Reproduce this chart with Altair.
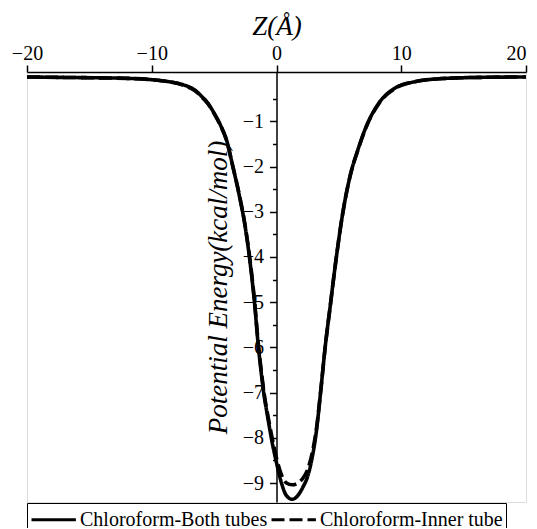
import altair as alt
import pandas as pd

series_names = ["Chloroform-Both tubes", "Chloroform-Inner tube"]

z_both = [-20, -17, -14, -12, -10, -8.5, -7.5, -6.5, -6, -5.5, -5, -4.5, -4, -3.5, -3, -2.5, -2,
          -1.75, -1.5, -1.25, -1, -0.7, -0.35, 0, 0.4, 0.8, 1.25, 1.7, 2.1, 2.5, 2.85, 3.2, 3.55,
          3.9, 4.3, 4.8, 5.3, 6.0, 6.5, 7.2, 8.2, 9.6, 11, 13, 16, 20]
e_both = [-0.02, -0.03, -0.04, -0.05, -0.08, -0.13, -0.19, -0.32, -0.45, -0.6, -0.82, -1.08, -1.42,
          -2.0, -2.62, -3.35, -4.4, -5.05, -5.85, -6.5, -7.05, -7.55, -8.1, -8.55, -9.0, -9.28,
          -9.36, -9.28, -9.1, -8.85, -8.45, -7.85, -6.95, -6.0, -5.1, -4.0, -3.05, -2.1, -1.65,
          -1.11, -0.6, -0.25, -0.13, -0.06, -0.03, -0.02]

z_inner = [-20, -17, -14, -12, -10, -8.5, -7.5, -6.5, -6, -5.5, -5, -4.5, -4, -3.5, -3, -2.5, -2,
           -1.75, -1.5, -1.25, -1, -0.7, -0.35, 0, 0.4, 0.8, 1.25, 1.7, 2.1, 2.5, 2.85, 3.2, 3.55,
           3.9, 4.3, 4.8, 5.3, 6.0, 6.5, 7.2, 8.2, 9.6, 11, 13, 16, 20]
e_inner = [-0.02, -0.03, -0.04, -0.05, -0.08, -0.13, -0.2, -0.33, -0.46, -0.61, -0.83, -1.09, -1.43,
           -2.0, -2.6, -3.33, -4.35, -5.0, -5.8, -6.45, -7.0, -7.5, -8.0, -8.45, -8.82, -9.0,
           -9.04, -9.0, -8.9, -8.7, -8.35, -7.8, -6.95, -6.0, -5.1, -4.0, -3.05, -2.1, -1.66,
           -1.12, -0.61, -0.26, -0.13, -0.06, -0.03, -0.02]

x_ticks = [-20, -10, 0, 10, 20]
y_ticks = [-1, -2, -3, -4, -5, -6, -7, -8, -9]
y_minor = [-0.5, -1.5, -2.5, -3.5, -4.5, -5.5, -6.5, -7.5, -8.5]

df = pd.concat([
    pd.DataFrame({"z": z_both, "E": e_both, "series": series_names[0]}),
    pd.DataFrame({"z": z_inner, "E": e_inner, "series": series_names[1]}),
])

W, H = 499, 430
FONT = "Liberation Serif"
y_domain = [-9.42, 0.09]

x_scale = alt.Scale(domain=[-20, 20], nice=False, zero=False)
y_scale = alt.Scale(domain=y_domain, nice=False, zero=False)

x_axis = alt.Axis(
    orient="top", values=x_ticks, format="d", title="Z(Å)",
    labelFont=FONT, labelFontSize=20, labelColor="black", labelPadding=2, labelFlush=False,
    labelAlign=alt.ExprRef(expr="datum.value == 20 ? 'right' : 'center'"),
    titleFont=FONT, titleFontSize=27, titleFontStyle="italic", titleFontWeight="normal",
    titleColor="black", titlePadding=3,
    tickSize=7, tickWidth=1.5, tickColor="black", domainWidth=1.5, domainColor="black",
    grid=False)

lines = alt.Chart(df).mark_line(strokeWidth=3.6, color="black", interpolate="monotone").encode(
    x=alt.X("z:Q", scale=x_scale, axis=x_axis),
    y=alt.Y("E:Q", scale=y_scale, axis=alt.Axis(
        orient="left", offset=-W / 2, values=y_ticks, format="d",
        title="Potential Energy(kcal/mol)",
        labelFont=FONT, labelFontSize=20, labelColor="black", labelPadding=6,
        titleFont=FONT, titleFontSize=27, titleFontStyle="italic", titleFontWeight="normal",
        titleColor="black", titleX=-50, titleY=H / 2, titleBaseline="alphabetic", titleAngle=270,
        tickSize=7, tickWidth=1.5, tickColor="black", domainWidth=1.5, domainColor="black",
        grid=False)),
    strokeDash=alt.StrokeDash("series:N", scale=alt.Scale(domain=series_names, range=[[1, 0], [13, 5]]),
                              legend=alt.Legend(
                                  orient="none", legendX=0, legendY=H + 1, direction="horizontal",
                                  title=None, symbolType="M-1,0H2.7", symbolSize=576,
                                  symbolStrokeWidth=3, symbolStrokeColor="black",
                                  labelFont=FONT, labelFontSize=20, labelColor="black",
                                  labelLimit=0, labelOffset=23, columnPadding=-3,
                                  strokeColor="black", padding=3)),
)

minor = alt.Chart(df).mark_line(opacity=0).encode(
    x=alt.X("z:Q", scale=x_scale, axis=x_axis),
    y=alt.Y("E:Q", scale=y_scale, axis=alt.Axis(
        orient="left", offset=-W / 2, values=y_minor, labels=False, domain=False,
        tickSize=4, tickWidth=1.5, tickColor="black", title=None, grid=False)),
)

chart = alt.layer(lines, minor).resolve_axis(y="independent").properties(
    width=W, height=H,
    autosize=alt.AutoSizeParams(type="none"),
    padding={"left": 19, "top": 64, "right": 3, "bottom": 26},
).configure_view(stroke=None).configure(background="white")

chart.save("out.html", embed_options={"renderer": "svg", "actions": False})
